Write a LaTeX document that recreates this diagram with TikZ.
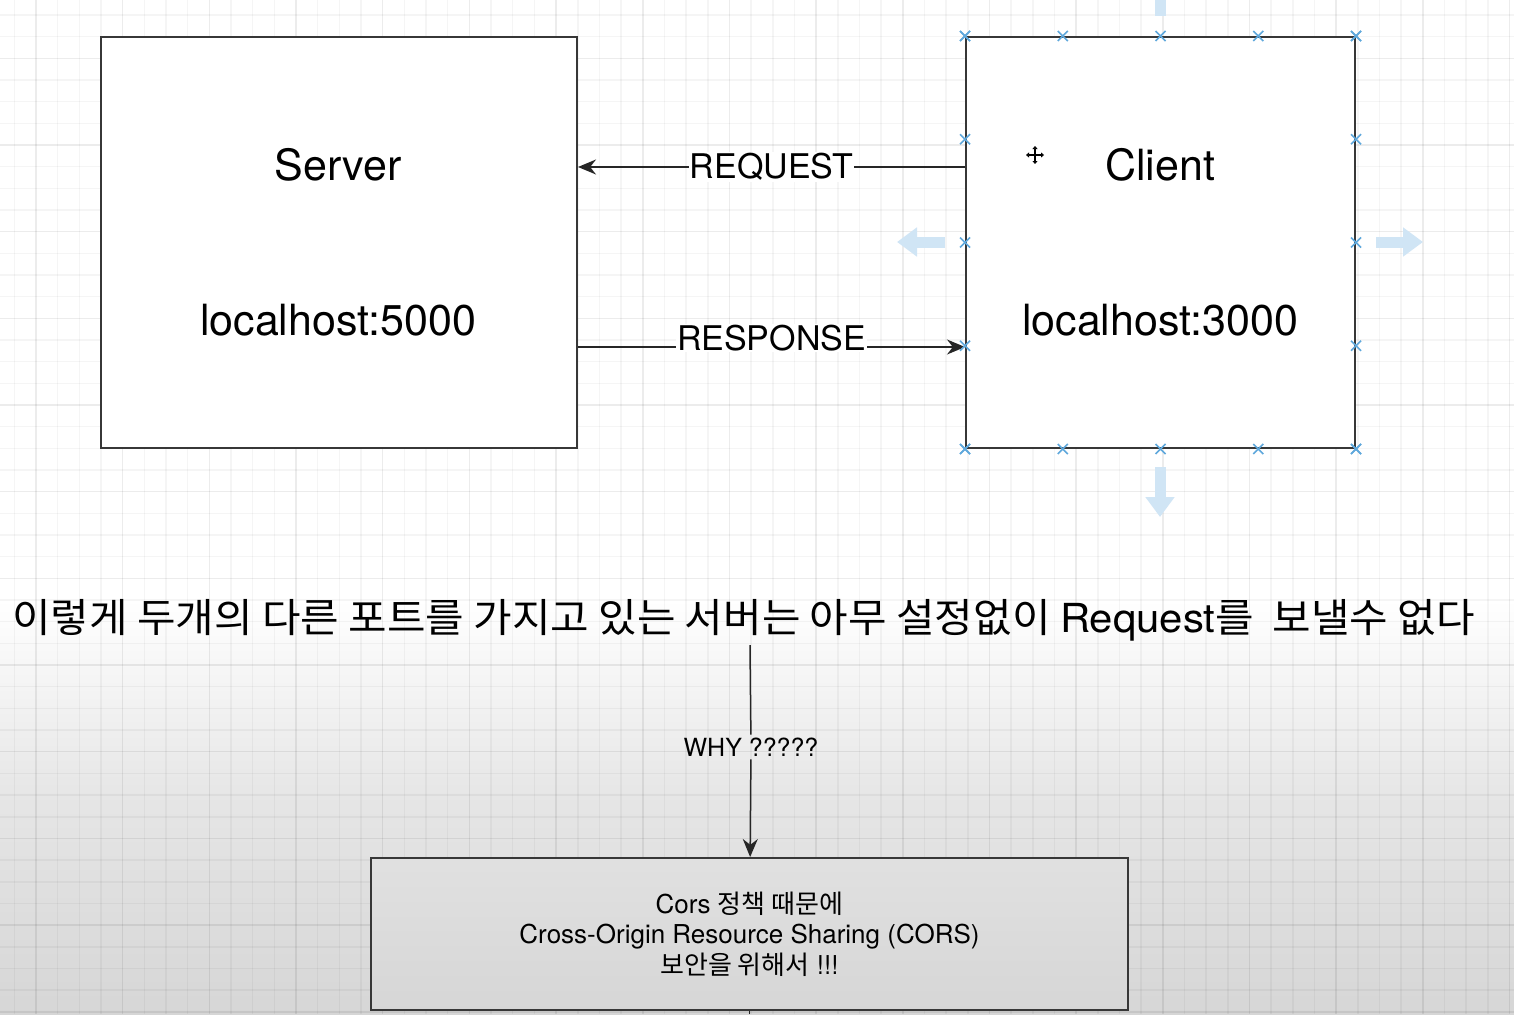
\documentclass[tikz,border=0pt]{standalone}
\usepackage{fontspec}
\usepackage{graphicx}
\setmainfont{TeX Gyre Heros}
\newfontfamily\kr{Noto Sans CJK KR}
\usetikzlibrary{calc,arrows.meta}
\definecolor{selblue}{RGB}{95,168,220}
\definecolor{paleblue}{RGB}{208,229,245}
\definecolor{boxline}{RGB}{55,55,55}

\begin{document}
\begin{tikzpicture}[x=1pt,y=-1pt,
			box/.style={draw=boxline,line width=2pt,fill=white,inner sep=0pt},
			title/.style={font=\fontsize{43}{50}\selectfont},
			elabel/.style={font=\fontsize{34}{40}\selectfont,fill=white,inner sep=1pt},
			flow/.style={line width=1.5pt,draw=black!85,-{Stealth[length=18pt,width=15pt]}},
			minor/.style={draw=black,opacity=0.04,line width=1.5pt},
			major/.style={draw=black,opacity=0.075,line width=1.5pt},
			selmark/.style={draw=selblue,line width=1.5pt},
			hint/.style={draw=paleblue,line width=11pt,-{Triangle[length=20pt,width=28pt]}}]
		% background and grid
		\useasboundingbox (0,0) rectangle (1514,1014);
		\fill[white] (0,0) rectangle (1514,600);
		\shade[top color=white,bottom color=black!10] (0,600) rectangle (1514,800);
		\shade[top color=black!10,bottom color=black!16] (0,800) rectangle (1514,1014);
		\foreach \k in {-1,...,68}
		{
			\pgfmathsetmacro\gx{36+\k*21.67}
			\pgfmathtruncatemacro\m{mod(\k+400,4)}
			\ifnum\m=0 \draw[major] (\gx,0) -- (\gx,1014); \else \draw[minor] (\gx,0) -- (\gx,1014); \fi
		}
		\foreach \k in {-2,...,44}
		{
			\pgfmathsetmacro\gy{58.3+\k*21.67}
			\pgfmathtruncatemacro\m{mod(\k+400,4)}
			\ifnum\m=0 \draw[major] (0,\gy) -- (1514,\gy); \else \draw[minor] (0,\gy) -- (1514,\gy); \fi
		}

		% the two hosts
		\node[box,minimum width=476pt,minimum height=411pt] (server) at (339,242.5) {};
		\node[box,minimum width=389pt,minimum height=411pt] (client) at (1160.5,242.5) {};
		\node[title] (srvname) at (338,165) {Server};
		\node[title] (srvport) at (338,320) {localhost:5000};
		\node[title] (cliname) at (1160,165) {Client};
		\node[title] (cliport) at (1160,320) {localhost:3000};

		\draw[flow] (client.west |- 0,167) -- node[elabel] (reqlbl) {REQUEST} (server.east |- 0,167);
		\draw[flow] (server.east |- 0,347) -- node[elabel,yshift=9pt] (reslbl) {RESPONSE} (client.west |- 0,347);

		% selection handles
		\foreach \t in {0,0.25,0.5,0.75,1}
		{
			\foreach \e/\f in {north west/north east,south west/south east,north west/south west,north east/south east}
				\draw[selmark] ($(client.\e)!\t!(client.\f)$) +(-5,-5) -- +(5,5) +(-5,5) -- +(5,-5);
		}
		\draw[hint] (945,242) -- (897,242);
		\draw[hint] (1376,242) -- (1423,242);
		\draw[hint] (1160,467) -- (1160,517);
		\draw[paleblue,line width=11pt] (1160,16) -- (1160,0);
		\draw[line width=1.2pt,{Triangle[length=3pt,width=5pt]}-{Triangle[length=3pt,width=5pt]}] (1026,155) -- (1044,155);
		\draw[line width=1.2pt,{Triangle[length=3pt,width=5pt]}-{Triangle[length=3pt,width=5pt]}] (1035,146) -- (1035,164);

		% question and answer
		\node[font=\fontsize{40}{48}\selectfont,inner sep=0pt] (krline) at (743.5,620)
			{\resizebox{1463pt}{\height}{\kr 이렇게 두개의 다른 포트를 가지고 있는 서버는 아무 설정없이 {\rmfamily Request}를\ \ 보낼수 없다}};
		\coordinate (whytop) at (750,645);
		\node[font=\fontsize{25}{30}\selectfont,inner sep=3pt] (whylbl) at (751,747) {WHY ?????};
		\node[box,top color=black!12,bottom color=black!16,minimum width=757pt,minimum height=152pt,
			align=center,font=\fontsize{26}{30.5}\selectfont] (cors) at (749.5,934)
			{Cors {\kr 정책 때문에}\\Cross-Origin Resource Sharing (CORS)\\{\kr 보안을 위해서} !!!};
		\draw[flow] (whytop) -- (whylbl) -- (cors);
		\coordinate (corsout) at (749.5,1014);
		\draw[line width=1.5pt,draw=black!85] (cors) -- (corsout);
\end{tikzpicture}
\end{document}
